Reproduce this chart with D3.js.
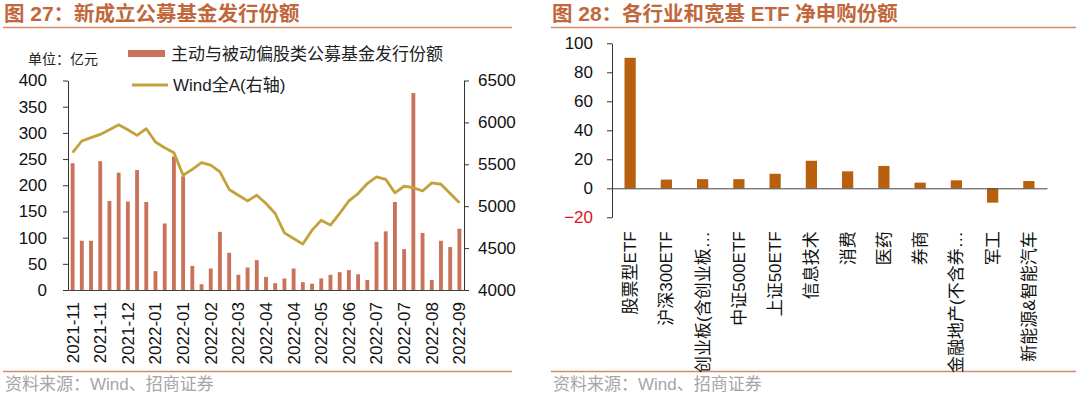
<!DOCTYPE html>
<html>
<head>
<meta charset="utf-8">
<script src="https://cdn.jsdelivr.net/npm/d3@7"></script>
<style>
  body { margin: 0; background: #fff; }
  svg text { font-family: 'Liberation Sans', Arial, 'Noto Sans CJK SC', sans-serif; }
</style>
</head>
<body>
<div id="chart"></div>
<script>
// left chart: weekly fund issuance (bars) + Wind All A (line, right axis)
const weeks = [
  '2021-11', '2021-11', '2021-11', '2021-11', '2021-12', '2021-12', '2021-12', '2021-12', '2021-12',
  '2022-01', '2022-01', '2022-01', '2022-01', '2022-02', '2022-02', '2022-02', '2022-03', '2022-03',
  '2022-03', '2022-03', '2022-04', '2022-04', '2022-04', '2022-04', '2022-04', '2022-05', '2022-05',
  '2022-05', '2022-05', '2022-06', '2022-06', '2022-06', '2022-06', '2022-07', '2022-07', '2022-07',
  '2022-07', '2022-08', '2022-08', '2022-08', '2022-08', '2022-09', '2022-09'
]
const issuance = [
  242, 94, 94, 246, 170, 224, 169, 229, 168, 36, 127, 255, 217, 46, 11, 41, 111, 71, 29, 43, 57, 25,
  13, 22, 41, 15, 12, 22, 29, 34, 38, 30, 19, 92, 112, 168, 78, 376, 109, 19, 94, 82, 117
]
const windA = [
  5639, 5778, 5818, 5857, 5913, 5972, 5913, 5845, 5925, 5766, 5698, 5639, 5369, 5440, 5520, 5490,
  5410, 5200, 5131, 5063, 5131, 5032, 4913, 4682, 4615, 4548, 4714, 4833, 4774, 4913, 5063, 5151,
  5270, 5349, 5321, 5159, 5238, 5222, 5182, 5278, 5262, 5151, 5040
]
const leftTicks = [0, 50, 100, 150, 200, 250, 300, 350, 400]
const rightTicks = [4000, 4500, 5000, 5500, 6000, 6500]

// right chart: ETF net subscriptions
const etfNames = [
  '股票型ETF', '沪深300ETF', '创业板(含创业板…', '中证500ETF', '上证50ETF', '信息技术',
  '消费', '医药', '券商', '金融地产(不含券…', '军工', '新能源&智能汽车'
]
const etfValues = [90, 6, 6.3, 6.3, 10, 19, 11.7, 15.4, 3.9, 5.5, -9.9, 5]
const etfTicks = [-20, 0, 20, 40, 60, 80, 100]

const accent = '#c0683c'
const ruleColor = '#d38c64'
const barColor = '#c9735a'
const lineColor = '#c2a23a'
const etfColor = '#b8600e'

const svg = d3.select('#chart')
  .append('svg')
  .attr('width', 1080)
  .attr('height', 396)

// titles, rules and sources
const panels = [
  { x0: 3, x1: 512, title: ['图 ', '27', '：新成立公募基金发行份额'] },
  { x0: 551, x1: 1076, title: ['图 ', '28', '：各行业和宽基 ETF 净申购份额'] }
]
panels.forEach(p => {
  const t = svg.append('text')
    .attr('x', p.x0 + 1)
    .attr('y', 21)
    .attr('font-size', 20.5)
    .attr('font-weight', 'bold')
    .attr('fill', accent)
  t.append('tspan').text(p.title[0])
  t.append('tspan').attr('font-size', 21).text(p.title[1])
  t.append('tspan').text(p.title[2])

  svg.append('line')
    .attr('x1', p.x0).attr('x2', p.x1)
    .attr('y1', 27.5).attr('y2', 27.5)
    .attr('stroke', ruleColor).attr('stroke-width', 1.5)
  svg.append('line')
    .attr('x1', p.x0).attr('x2', p.x1)
    .attr('y1', 371.5).attr('y2', 371.5)
    .attr('stroke', ruleColor).attr('stroke-width', 1.5)
  svg.append('text')
    .attr('x', p.x0 + 2)
    .attr('y', 390)
    .attr('font-size', 17)
    .attr('fill', '#a6a6a6')
    .text('资料来源：Wind、招商证券')
})

// ---------- left chart ----------
const L = { left: 68, right: 464, top: 80.5, bottom: 290 }

const xBand = d3.scaleBand()
  .domain(d3.range(weeks.length))
  .range([L.left, L.right])
  .paddingInner(0.58)
  .paddingOuter(0.29)

const yLeft = d3.scaleLinear().domain([0, 400]).range([L.bottom, L.top])
const yRight = d3.scaleLinear().domain([4000, 6500]).range([L.bottom, L.top])

const gl = svg.append('g')

gl.selectAll('.issue-bar')
  .data(issuance)
  .enter()
  .append('rect')
  .attr('class', 'issue-bar')
  .attr('x', (d, i) => xBand(i))
  .attr('y', d => yLeft(d))
  .attr('width', xBand.bandwidth())
  .attr('height', d => yLeft(0) - yLeft(d))
  .attr('fill', barColor)

const line = d3.line()
  .x((d, i) => xBand(i) + xBand.bandwidth() / 2)
  .y(d => yRight(d))

gl.append('path')
  .datum(windA)
  .attr('d', line)
  .attr('fill', 'none')
  .attr('stroke', lineColor)
  .attr('stroke-width', 2.8)
  .attr('stroke-linejoin', 'round')

const axisL = gl.append('g')
  .attr('transform', `translate(${L.left},0)`)
  .call(d3.axisLeft(yLeft).tickValues(leftTicks).tickSize(5).tickSizeOuter(0).tickPadding(16))
const axisR = gl.append('g')
  .attr('transform', `translate(${L.right},0)`)
  .call(d3.axisRight(yRight).tickValues(rightTicks).tickFormat(d3.format('d'))
    .tickSize(5).tickSizeOuter(0).tickPadding(9))
const axisB = gl.append('g')
  .attr('transform', `translate(0,${L.bottom})`)
  .call(d3.axisBottom(xBand)
    .tickValues(d3.range(0, weeks.length, 3))
    .tickFormat(i => weeks[i])
    .tickSize(0)
    .tickSizeOuter(0))

axisB.selectAll('text')
  .attr('transform', 'rotate(-90)')
  .attr('text-anchor', 'end')
  .attr('x', -12)
  .attr('y', 0)
  .attr('dy', '0.35em')

;[axisL, axisR, axisB].forEach(a => {
  a.select('.domain').attr('stroke', '#333')
  a.selectAll('.tick line').attr('stroke', '#333')
  a.selectAll('text').attr('font-size', 17).attr('fill', '#111')
    .attr('font-family', "'Liberation Sans', Arial, sans-serif")
})
axisB.selectAll('.domain').attr('stroke', '#444')

// legend
svg.append('text')
  .attr('x', 28).attr('y', 64)
  .attr('font-size', 14).attr('fill', '#222')
  .attr('font-family', "'Noto Sans CJK SC', sans-serif")
  .text('单位：亿元')
svg.append('rect')
  .attr('x', 128).attr('y', 50)
  .attr('width', 37).attr('height', 7)
  .attr('fill', barColor)
svg.append('text')
  .attr('x', 171).attr('y', 59.5)
  .attr('font-size', 17).attr('fill', '#222')
  .attr('font-family', "'Noto Sans CJK SC', sans-serif")
  .text('主动与被动偏股类公募基金发行份额')
svg.append('line')
  .attr('x1', 132).attr('x2', 168)
  .attr('y1', 85).attr('y2', 85)
  .attr('stroke', lineColor).attr('stroke-width', 2.8)
svg.append('text')
  .attr('x', 173).attr('y', 91)
  .attr('font-size', 17).attr('fill', '#222')
  .text('Wind全A(右轴)')

// ---------- right chart ----------
const R = { left: 612, right: 1047, top: 43.3, bottom: 217.3 }

const xEtf = d3.scaleBand()
  .domain(etfNames)
  .range([R.left, R.right])
  .paddingInner(0.69)
  .paddingOuter(0.345)

const yEtf = d3.scaleLinear().domain([-20, 100]).range([R.bottom, R.top])

const gr = svg.append('g')

gr.selectAll('.etf-bar')
  .data(etfValues)
  .enter()
  .append('rect')
  .attr('class', 'etf-bar')
  .attr('x', (d, i) => xEtf(etfNames[i]))
  .attr('y', d => yEtf(Math.max(0, d)))
  .attr('width', xEtf.bandwidth())
  .attr('height', d => Math.abs(yEtf(d) - yEtf(0)))
  .attr('fill', etfColor)

const axisEy = gr.append('g')
  .attr('transform', `translate(${R.left},0)`)
  .call(d3.axisLeft(yEtf).tickValues(etfTicks).tickSize(5).tickSizeOuter(0).tickPadding(14))
axisEy.select('.domain').attr('stroke', '#333')
axisEy.selectAll('.tick line').attr('stroke', '#333')
axisEy.selectAll('text')
  .attr('font-size', 17)
  .attr('font-family', "'Liberation Sans', Arial, sans-serif")
  .attr('fill', d => d < 0 ? '#e0121b' : '#111')

// zero line
gr.append('g')
  .attr('transform', `translate(0,${yEtf(0)})`)
  .call(d3.axisBottom(xEtf).tickSize(0).tickSizeOuter(0).tickFormat(''))
  .select('.domain').attr('stroke', '#444')

// category labels sit below the plot area
gr.append('g')
  .selectAll('.etf-label')
  .data(etfNames)
  .enter()
  .append('text')
  .attr('class', 'etf-label')
  .attr('transform', d => `translate(${xEtf(d) + xEtf.bandwidth() / 2},${R.bottom + 14}) rotate(-90)`)
  .attr('text-anchor', 'end')
  .attr('dy', '0.35em')
  .attr('font-size', 17)
  .attr('fill', '#111')
  .text(d => d)
</script>
</body>
</html>
